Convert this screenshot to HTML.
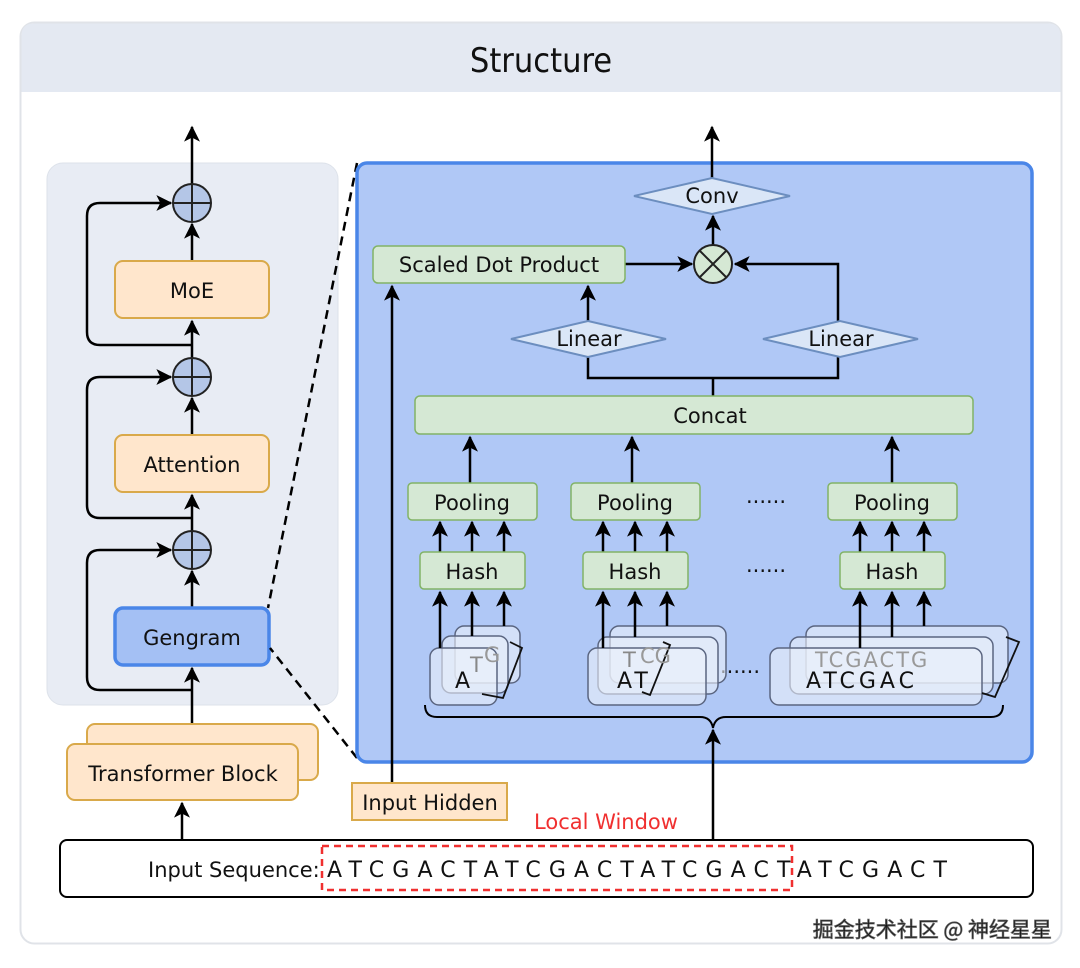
<!DOCTYPE html>
<html><head><meta charset="utf-8"><style>
html,body{margin:0;padding:0;background:#fff;}
svg{display:block;}
text{font-family:"DejaVu Sans","Liberation Sans",sans-serif;fill:#111;}
</style></head><body>
<svg width="1080" height="968" viewBox="0 0 1080 968" xmlns="http://www.w3.org/2000/svg">
<defs>
<marker id="a" viewBox="0 0 12 12" refX="11" refY="6" markerWidth="16" markerHeight="16" orient="auto" markerUnits="userSpaceOnUse"><path d="M0,0 L12,6 L0,12 L3,6 Z" fill="#000"/></marker>
</defs>
<rect x="20.5" y="22.5" width="1041" height="921" rx="14" fill="#fff" stroke="#e0e3e8" stroke-width="2"/>
<path d="M21.5 92 V36 Q21.5 23.5 34 23.5 H1048 Q1060.5 23.5 1060.5 36 V92 Z" fill="#e4e9f2"/>
<text x="541" y="72" font-size="34" text-anchor="middle" fill="#333" style="font-family:'DejaVu Sans Condensed','DejaVu Sans',sans-serif">Structure</text>

<rect x="47" y="163" width="291" height="542" rx="16" fill="#e8ecf4" stroke="#dde2ea"/>
<g stroke="#000" stroke-width="2.5" fill="none">
<line x1="182" y1="840" x2="182" y2="803" marker-end="url(#a)"/>
<line x1="192" y1="744" x2="192" y2="668" marker-end="url(#a)"/>
<line x1="192" y1="608" x2="192" y2="571" marker-end="url(#a)"/>
<line x1="192" y1="531" x2="192" y2="495" marker-end="url(#a)"/>
<line x1="192" y1="435" x2="192" y2="398" marker-end="url(#a)"/>
<line x1="192" y1="358" x2="192" y2="321" marker-end="url(#a)"/>
<line x1="192" y1="261" x2="192" y2="224" marker-end="url(#a)"/>
<line x1="192" y1="184" x2="192" y2="127" marker-end="url(#a)"/>
<path d="M192 690 H100 Q87 690 87 677 V563 Q87 550 100 550 H171" marker-end="url(#a)"/>
<path d="M192 518 H100 Q87 518 87 505 V390 Q87 377 100 377 H171" marker-end="url(#a)"/>
<path d="M192 345 H100 Q87 345 87 332 V216 Q87 203 100 203 H171" marker-end="url(#a)"/>
</g>
<g stroke="#222" stroke-width="2" fill="#b4c6e7">
<circle cx="192" cy="203" r="19"/><circle cx="192" cy="377" r="19"/><circle cx="192" cy="550" r="19"/>
</g>
<g stroke="#222" stroke-width="2">
<line x1="173" y1="203" x2="211" y2="203"/><line x1="192" y1="184" x2="192" y2="222"/>
<line x1="173" y1="377" x2="211" y2="377"/><line x1="192" y1="358" x2="192" y2="396"/>
<line x1="173" y1="550" x2="211" y2="550"/><line x1="192" y1="531" x2="192" y2="569"/>
</g>
<rect x="115" y="261" width="154" height="57" rx="8" fill="#ffe6cc" stroke="#d9a94a" stroke-width="2"/>
<text x="192" y="298" font-size="21" text-anchor="middle">MoE</text>
<rect x="115" y="435" width="154" height="57" rx="8" fill="#ffe6cc" stroke="#d9a94a" stroke-width="2"/>
<text x="192" y="472" font-size="21" text-anchor="middle">Attention</text>
<rect x="115" y="608" width="154" height="57" rx="8" fill="#a4c0f4" stroke="#4a86e8" stroke-width="3.5"/>
<text x="192" y="645" font-size="21" text-anchor="middle">Gengram</text>
<rect x="87" y="724" width="231" height="56" rx="8" fill="#ffe6cc" stroke="#d9a94a" stroke-width="2"/>
<rect x="67" y="744" width="231" height="56" rx="8" fill="#ffe6cc" stroke="#d9a94a" stroke-width="2"/>
<text x="183" y="781" font-size="21" text-anchor="middle">Transformer Block</text>

<g stroke="#000" stroke-width="2.5" stroke-dasharray="9,6">
<line x1="357" y1="163" x2="268" y2="608"/>
<line x1="357" y1="758" x2="270" y2="648"/>
</g>

<rect x="357" y="163" width="675" height="599" rx="10" fill="#b0c8f6" stroke="#4a86e8" stroke-width="3.5"/>
<g stroke="#000" stroke-width="2.5" fill="none">
<line x1="712" y1="178" x2="712" y2="127" marker-end="url(#a)"/>
<line x1="713" y1="245" x2="713" y2="216" marker-end="url(#a)"/>
<line x1="625" y1="264" x2="692" y2="264" marker-end="url(#a)"/>
<path d="M838 321 V264 H735" marker-end="url(#a)"/>
<line x1="588" y1="321" x2="588" y2="286" marker-end="url(#a)"/>
<path d="M588 357 V378 H838 V357"/>
<line x1="713" y1="378" x2="713" y2="396"/>
<line x1="392" y1="783" x2="392" y2="286" marker-end="url(#a)"/>
<line x1="470" y1="483" x2="470" y2="437" marker-end="url(#a)"/>
<line x1="632" y1="483" x2="632" y2="437" marker-end="url(#a)"/>
<line x1="892" y1="483" x2="892" y2="437" marker-end="url(#a)"/>
<line x1="440" y1="552" x2="440" y2="522" marker-end="url(#a)"/>
<line x1="472" y1="552" x2="472" y2="522" marker-end="url(#a)"/>
<line x1="504" y1="552" x2="504" y2="522" marker-end="url(#a)"/>
<line x1="603" y1="552" x2="603" y2="522" marker-end="url(#a)"/>
<line x1="635" y1="552" x2="635" y2="522" marker-end="url(#a)"/>
<line x1="667" y1="552" x2="667" y2="522" marker-end="url(#a)"/>
<line x1="860" y1="552" x2="860" y2="522" marker-end="url(#a)"/>
<line x1="892" y1="552" x2="892" y2="522" marker-end="url(#a)"/>
<line x1="924" y1="552" x2="924" y2="522" marker-end="url(#a)"/>
<line x1="713" y1="840" x2="713" y2="730" marker-end="url(#a)"/>
</g>
<polygon points="634,196 712,178 790,196 712,214" fill="#dae6f7" stroke="#6c8ebf" stroke-width="2"/>
<text x="712" y="203" font-size="21" text-anchor="middle">Conv</text>
<rect x="373" y="246" width="252" height="37" rx="5" fill="#d5e8d4" stroke="#82b366" stroke-width="1.5"/>
<text x="499" y="272" font-size="21" text-anchor="middle">Scaled Dot Product</text>
<circle cx="713" cy="264" r="19" fill="#d5e8d4" stroke="#222" stroke-width="2"/>
<g stroke="#222" stroke-width="2"><line x1="700" y1="251" x2="726" y2="277"/><line x1="726" y1="251" x2="700" y2="277"/></g>
<polygon points="511,339 588,321 666,339 588,357" fill="#dae6f7" stroke="#6c8ebf" stroke-width="2"/>
<text x="589" y="346" font-size="21" text-anchor="middle">Linear</text>
<polygon points="763,339 840,321 918,339 840,357" fill="#dae6f7" stroke="#6c8ebf" stroke-width="2"/>
<text x="841" y="346" font-size="21" text-anchor="middle">Linear</text>
<rect x="415" y="396" width="558" height="38" rx="5" fill="#d5e8d4" stroke="#82b366" stroke-width="1.5"/>
<text x="710" y="423" font-size="21" text-anchor="middle">Concat</text>
<g fill="#d5e8d4" stroke="#82b366" stroke-width="1.5">
<rect x="408" y="483" width="129" height="37" rx="4"/><rect x="571" y="483" width="129" height="37" rx="4"/><rect x="828" y="483" width="129" height="37" rx="4"/>
<rect x="420" y="552" width="105" height="37" rx="4"/><rect x="583" y="552" width="105" height="37" rx="4"/><rect x="840" y="552" width="105" height="37" rx="4"/>
</g>
<g font-size="21" text-anchor="middle">
<text x="472" y="510">Pooling</text><text x="635" y="510">Pooling</text><text x="892" y="510">Pooling</text>
<text x="472" y="579">Hash</text><text x="635" y="579">Hash</text><text x="892" y="579">Hash</text>
<text x="766" y="503">......</text><text x="766" y="572">......</text><text x="740" y="673">......</text>
</g>
<g fill="rgba(235,240,250,0.6)" stroke="#5a6580" stroke-width="1.5">
<rect x="455" y="626" width="65" height="57" rx="9"/><rect x="442" y="636" width="66" height="57" rx="9"/><rect x="430" y="648" width="67" height="57" rx="9"/>
<rect x="610" y="626" width="116" height="57" rx="9"/><rect x="598" y="637" width="120" height="57" rx="9"/><rect x="588" y="648" width="118" height="57" rx="9"/>
<rect x="806" y="626" width="202" height="57" rx="9"/><rect x="790" y="637" width="203" height="57" rx="9"/><rect x="770" y="648" width="212" height="57" rx="9"/>
</g>
<g stroke="#000" stroke-width="2.5">
<line x1="440" y1="648" x2="440" y2="592" marker-end="url(#a)"/>
<line x1="472" y1="636" x2="472" y2="592" marker-end="url(#a)"/>
<line x1="504" y1="626" x2="504" y2="592" marker-end="url(#a)"/>
<line x1="603" y1="648" x2="603" y2="592" marker-end="url(#a)"/>
<line x1="635" y1="637" x2="635" y2="592" marker-end="url(#a)"/>
<line x1="667" y1="626" x2="667" y2="592" marker-end="url(#a)"/>
<line x1="860" y1="648" x2="860" y2="592" marker-end="url(#a)"/>
<line x1="892" y1="637" x2="892" y2="592" marker-end="url(#a)"/>
<line x1="924" y1="626" x2="924" y2="592" marker-end="url(#a)"/>
</g>
<g stroke="#111" stroke-width="1.8" fill="none">
<path d="M510 642 L522 648 L503 698 L482 694"/>
<path d="M663 642 L670 645 L650 695 L642 692"/>
<path d="M1006 637 L1019 642 L995 697 L982 693"/>
</g>
<g font-size="21">
<text x="470" y="672" fill="#888" style="fill:#888">T</text><text x="484" y="662" style="fill:#999">G</text>
<text x="623" y="667" style="fill:#888">T</text><text x="640" y="663" style="fill:#999">CG</text>
<text x="815" y="667" style="fill:#999" letter-spacing="2">TCGACTG</text>
</g>
<g font-size="22" fill="#000">
<text x="455" y="688">A</text><text x="617" y="688" letter-spacing="4">AT</text><text x="806" y="688" letter-spacing="4">ATCGAC</text>
</g>
<path d="M425 705 Q425 717 437 717 H700 Q711 717 713 728 Q715 717 726 717 H991 Q1003 717 1003 705" fill="none" stroke="#000" stroke-width="2"/>

<rect x="352" y="783" width="155" height="37" fill="#ffe6cc" stroke="#d9a94a" stroke-width="2"/>
<text x="430" y="810" font-size="21" text-anchor="middle">Input Hidden</text>
<text x="606" y="829" font-size="21" text-anchor="middle" style="fill:#f03030">Local Window</text>

<rect x="60" y="840" width="973" height="57" rx="7" fill="#fff" stroke="#000" stroke-width="2"/>
<rect x="322" y="846" width="470" height="44" fill="none" stroke="#f03030" stroke-width="2.5" stroke-dasharray="7,5"/>
<text x="148" y="877" font-size="21">Input Sequence:</text>
<text x="327" y="877" font-size="22" textLength="620" lengthAdjust="spacing">ATCGACTATCGACTATCGACTATCGACT</text>

<text x="1052" y="937" font-size="21" text-anchor="end" fill="#fff" stroke="#666" stroke-width="0.8" style="font-family:'Noto Sans CJK SC',sans-serif">掘金技术社区 @ 神经星星</text>
</svg>
</body></html>
